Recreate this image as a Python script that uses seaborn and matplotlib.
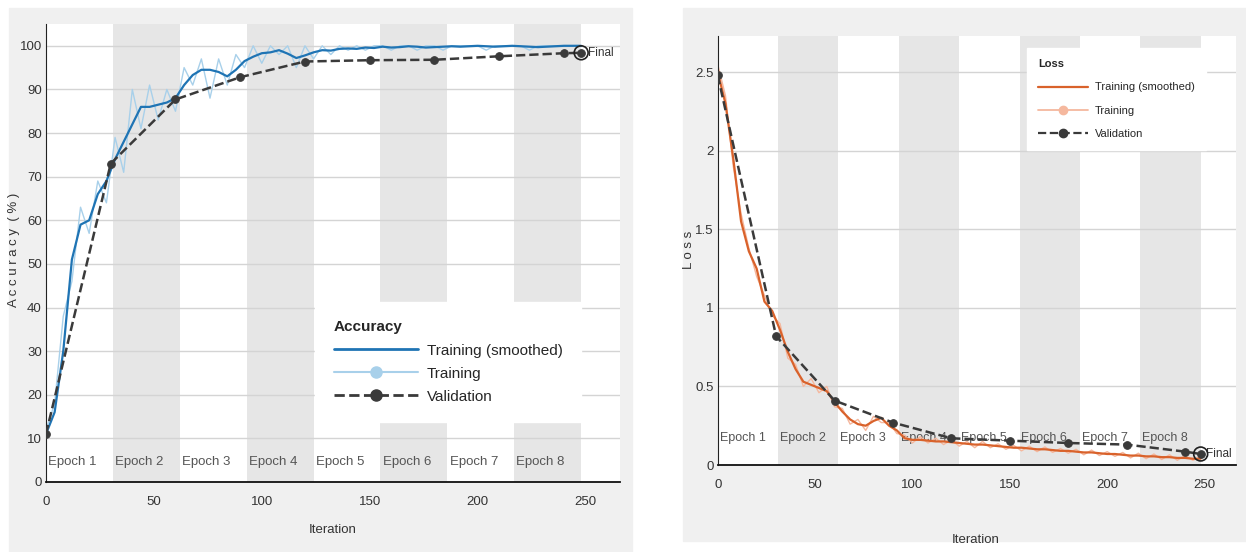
import matplotlib
matplotlib.use("Agg")
import matplotlib.pyplot as plt
from matplotlib.lines import Line2D
from matplotlib.patches import Rectangle
import seaborn as sns
import pandas as pd

# Data
iters = list(range(0, 249, 4))
acc_smooth = [11, 16, 30, 51, 59, 60, 66, 69, 74, 78, 82, 86, 86, 86.5, 87, 88,
              91, 93.3, 94.5, 94.5, 94, 93, 94.5, 96.5, 97.5, 98.3, 98.5, 99, 98.2, 97.2,
              97.8, 98.5, 99, 98.9, 99.3, 99.4, 99.3, 99.6, 99.5, 99.8, 99.6, 99.7, 99.9,
              99.8, 99.6, 99.7, 99.8, 99.9, 99.8, 99.9, 100, 99.9, 99.8, 99.9, 100, 99.9,
              99.8, 99.7, 99.8, 99.9, 100, 100, 100]
acc_train = [12, 18, 38, 46, 63, 57, 69, 64, 79, 71, 90, 81, 91, 83, 90, 85,
             95, 91, 97, 88, 97, 91, 98, 95, 100, 96, 100, 98, 100, 95,
             100, 97, 100, 98, 100, 99, 100, 99, 100, 100, 99, 100, 100,
             99, 100, 100, 99, 100, 100, 100, 100, 99, 100, 100, 100, 100,
             99, 100, 100, 100, 100, 100, 100]
loss_smooth = [2.5, 2.3, 1.95, 1.55, 1.36, 1.25, 1.04, 0.98, 0.86, 0.72, 0.61, 0.53, 0.51,
               0.49, 0.47, 0.40, 0.34, 0.29, 0.26, 0.25, 0.28, 0.30, 0.25, 0.22, 0.17, 0.16,
               0.16, 0.155, 0.15, 0.15, 0.145, 0.14, 0.135, 0.13, 0.13, 0.125, 0.12, 0.115,
               0.11, 0.11, 0.105, 0.10, 0.10, 0.095, 0.09, 0.09, 0.085, 0.08, 0.08, 0.075,
               0.07, 0.07, 0.065, 0.06, 0.06, 0.055, 0.055, 0.05, 0.05, 0.045, 0.045, 0.04, 0.04]
loss_train = [2.55, 2.35, 1.9, 1.6, 1.38, 1.2, 1.08, 0.95, 0.9, 0.68, 0.64, 0.5, 0.55,
              0.46, 0.5, 0.37, 0.36, 0.26, 0.29, 0.22, 0.31, 0.27, 0.27, 0.2, 0.19, 0.14,
              0.18, 0.14, 0.17, 0.13, 0.16, 0.12, 0.15, 0.11, 0.15, 0.11, 0.135, 0.1,
              0.125, 0.09, 0.12, 0.085, 0.115, 0.08, 0.105, 0.075, 0.1, 0.065, 0.095, 0.06,
              0.085, 0.055, 0.08, 0.045, 0.075, 0.04, 0.07, 0.035, 0.065, 0.03, 0.06, 0.03, 0.05]
val_iters = [0, 30, 60, 90, 120, 150, 180, 210, 240, 248]
acc_val = [11, 73, 87.7, 92.8, 96.4, 96.7, 96.8, 97.6, 98.3, 98.4]
loss_val = [2.48, 0.82, 0.41, 0.27, 0.17, 0.155, 0.14, 0.13, 0.085, 0.07]
epoch_len = 31
epoch_names = ["Epoch 1", "Epoch 2", "Epoch 3", "Epoch 4",
               "Epoch 5", "Epoch 6", "Epoch 7", "Epoch 8"]

train = pd.DataFrame({"iter": iters, "acc_s": acc_smooth, "acc": acc_train,
                      "loss_s": loss_smooth, "loss": loss_train})
val = pd.DataFrame({"iter": val_iters, "acc": acc_val, "loss": loss_val})

sns.set_style("white")
arial = ["Liberation Sans", "DejaVu Sans"]
plt.rcParams["font.family"] = arial

W, H = 1246, 552
fig = plt.figure(figsize=(W / 100, H / 100), dpi=100, facecolor="white")
fig.patches.append(Rectangle((9 / W, 0), 623 / W, 544 / H, transform=fig.transFigure,
                             color="#f0f0f0", zorder=-10))
fig.patches.append(Rectangle((683 / W, 11 / H), 563 / W, 533 / H, transform=fig.transFigure,
                             color="#f0f0f0", zorder=-10))

ax1 = fig.add_axes([46 / W, 1 - 482 / H, 574 / W, 458 / H])
ax2 = fig.add_axes([717.7 / W, 1 - 465 / H, 518 / W, 429 / H])

val_col = "#3a3a3a"


def panel(ax, ys, ys_s, vs, c_s, c_raw, ylim, yticks, ylabels, epoch_y, lab_size):
    ax.set_facecolor("white")
    for e in range(8):
        if e % 2 == 1:
            ax.axvspan(e * epoch_len, (e + 1) * epoch_len, color="#e6e6e6", zorder=0.1, lw=0)
        ax.text(e * epoch_len + 1, epoch_y, epoch_names[e], ha="left", va="center",
                fontsize=lab_size, color="#555555", zorder=1)
    sns.lineplot(data=train, x="iter", y=ys, ax=ax, color=c_raw, lw=1, zorder=2)
    sns.lineplot(data=train, x="iter", y=ys_s, ax=ax, color=c_s, lw=1.6, zorder=3)
    sns.lineplot(data=val, x="iter", y=vs, ax=ax, color=val_col, lw=1.8, ls="--",
                 marker="o", markersize=5.5, markeredgecolor=val_col, zorder=4)
    fx, fy = val["iter"].iloc[-1], val[vs].iloc[-1]
    ax.scatter([fx], [fy], s=100, facecolor="none", edgecolor="#202020", lw=1.2, zorder=5)
    ax.text(fx + 3, fy, "Final", ha="left", va="center", fontsize=8.5, color="#333333")
    ax.set_xlim(0, 266)
    ax.set_ylim(*ylim)
    ax.set_xticks([0, 50, 100, 150, 200, 250])
    ax.set_xticklabels(["0", "50", "100", "150", "200", "250"])
    ax.set_yticks(yticks)
    ax.set_yticklabels(ylabels)
    ax.set_axisbelow(True)
    ax.yaxis.grid(True, color="#d4d4d4", lw=1)
    ax.xaxis.grid(False)
    for s in ["top", "right"]:
        ax.spines[s].set_visible(False)
    ax.spines["left"].set_color("#222222")
    ax.spines["bottom"].set_color("#111111")
    ax.spines["bottom"].set_linewidth(1.3)
    ax.tick_params(direction="in", length=5, color="#333333", labelsize=9.5,
                   labelcolor="#333333")
    ax.tick_params(axis="x", pad=10)
    ax.tick_params(axis="y", pad=3)
    ax.set_xlabel("")
    ax.set_ylabel("")


panel(ax1, "acc", "acc_s", "acc", "#1f74b4", "#a8d0ea", (0, 105),
      list(range(0, 101, 10)), [str(v) for v in range(0, 101, 10)], 4.6, 9.5)
panel(ax2, "loss", "loss_s", "loss", "#d9622b", "#f5b89e", (0, 2.73),
      [0, 0.5, 1, 1.5, 2, 2.5], ["0", "0.5", "1", "1.5", "2", "2.5"], 0.17, 9)

# axis labels
fig.text(14 / W, 1 - 250 / H, "A c c u r a c y  ( % )", rotation=90, ha="center",
         va="center", fontsize=9.5, color="#333333")
fig.text(333 / W, 1 - 530 / H, "Iteration", ha="center", va="center", fontsize=9.5,
         color="#333333")
fig.text(689 / W, 1 - 250 / H, "L o s s", rotation=90, ha="center", va="center",
         fontsize=9.5, color="#333333")
fig.text(976 / W, 1 - 540 / H, "Iteration", ha="center", va="center", fontsize=9.5,
         color="#333333")

# legends
h_acc = [Line2D([], [], color="#1f74b4", lw=2),
         Line2D([], [], color="#a8d0ea", lw=1.5, marker="o", markersize=8),
         Line2D([], [], color=val_col, lw=2, ls="--", marker="o", markersize=8)]
leg1 = ax1.legend(h_acc, ["Training (smoothed)", "Training", "Validation"], title="Accuracy",
                  loc="upper left", bbox_to_anchor=(0.469, 0.393), borderaxespad=0,
                  frameon=True, facecolor="white", edgecolor="white", framealpha=1,
                  fancybox=False, handlelength=5.5, handletextpad=0.6, labelspacing=0.6,
                  borderpad=1.2, alignment="left",
                  prop={"size": 11},
                  title_fontproperties={"size": 11, "weight": "bold"})
leg1.set_zorder(10)

h_loss = [Line2D([], [], color="#d9622b", lw=1.6),
          Line2D([], [], color="#f5b89e", lw=1.3, marker="o", markersize=6),
          Line2D([], [], color=val_col, lw=1.6, ls="--", marker="o", markersize=6)]
leg2 = ax2.legend(h_loss, ["Training (smoothed)", "Training", "Validation"], title="Loss",
                  loc="upper left", bbox_to_anchor=(0.597, 0.972), borderaxespad=0,
                  frameon=True, facecolor="white", edgecolor="white", framealpha=1,
                  fancybox=False, handlelength=4.5, handletextpad=0.6, labelspacing=1.2,
                  borderpad=1.0, alignment="left",
                  prop={"size": 8},
                  title_fontproperties={"size": 8, "weight": "bold"})
leg2.set_zorder(10)

fig.savefig("out.png", dpi=100, facecolor="white")
